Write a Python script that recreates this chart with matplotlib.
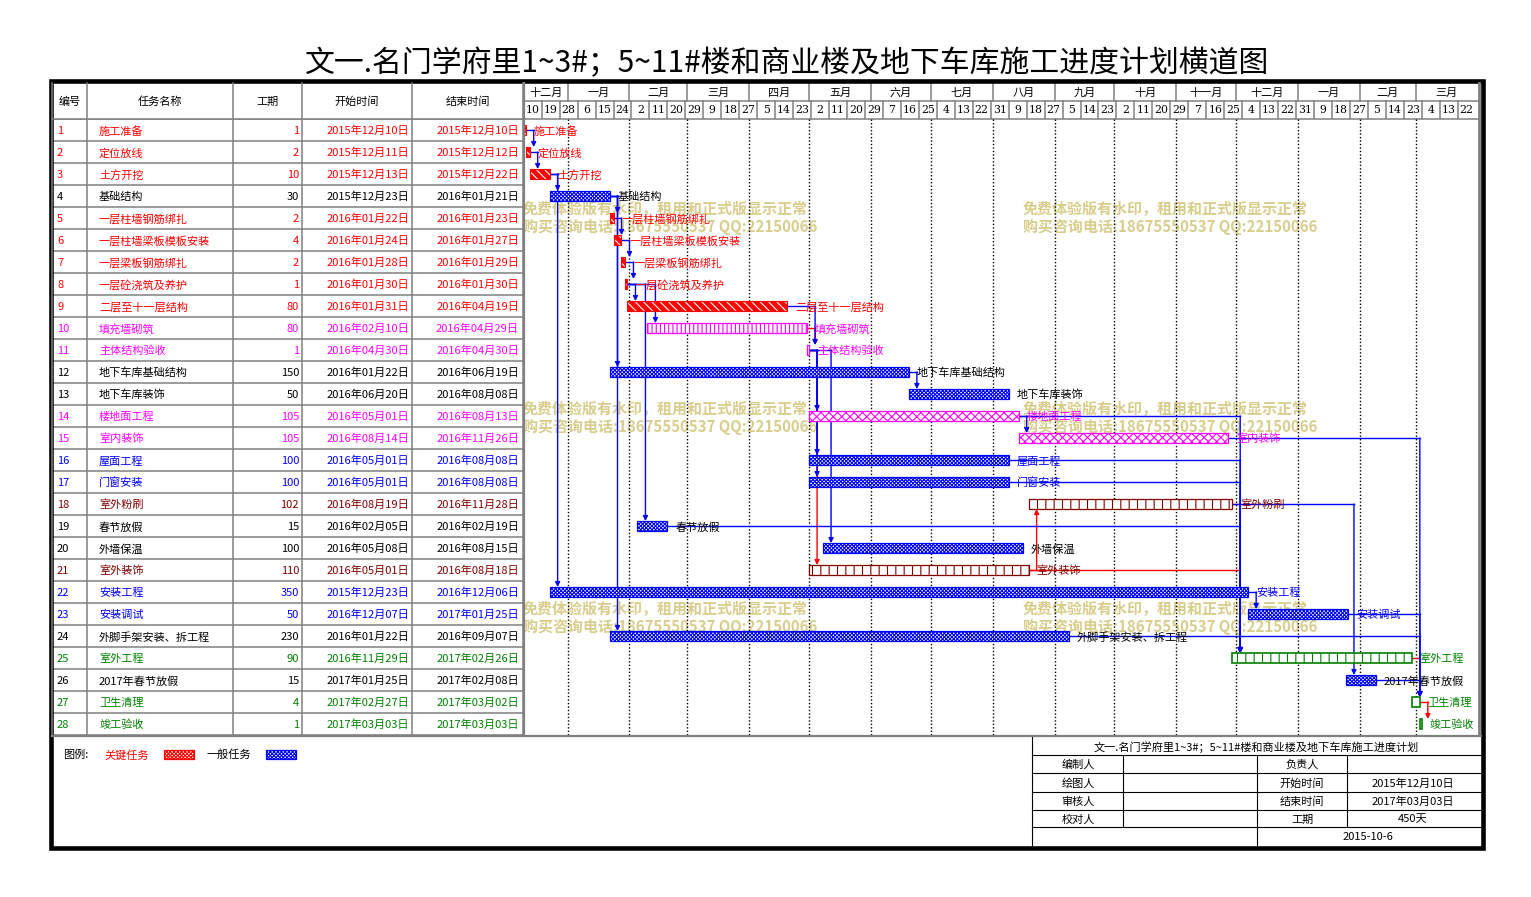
import datetime as dt
import matplotlib
matplotlib.use('Agg')
import matplotlib.pyplot as plt
import matplotlib.dates as mdates
from matplotlib.patches import Rectangle

plt.rcParams['font.family'] = ['Noto Sans CJK SC', 'DejaVu Sans']
plt.rcParams['hatch.linewidth'] = 0.8

W, H = 1531, 897

# ---------------- data ----------------
names = ['施工准备', '定位放线', '土方开挖', '基础结构', '一层柱墙钢筋绑扎', '一层柱墙梁板模板安装',
         '一层梁板钢筋绑扎', '一层砼浇筑及养护', '二层至十一层结构', '填充墙砌筑', '主体结构验收',
         '地下车库基础结构', '地下车库装饰', '楼地面工程', '室内装饰', '屋面工程', '门窗安装',
         '室外粉刷', '春节放假', '外墙保温', '室外装饰', '安装工程', '安装调试', '外脚手架安装、拆工程',
         '室外工程', '2017年春节放假', '卫生清理', '竣工验收']
durations = [1, 2, 10, 30, 2, 4, 2, 1, 80, 80, 1, 150, 50, 105, 105, 100, 100, 102, 15, 100,
             110, 350, 50, 230, 90, 15, 4, 1]
starts = ['2015-12-10', '2015-12-11', '2015-12-13', '2015-12-23', '2016-01-22', '2016-01-24',
          '2016-01-28', '2016-01-30', '2016-01-31', '2016-02-10', '2016-04-30', '2016-01-22',
          '2016-06-20', '2016-05-01', '2016-08-14', '2016-05-01', '2016-05-01', '2016-08-19',
          '2016-02-05', '2016-05-08', '2016-05-01', '2015-12-23', '2016-12-07', '2016-01-22',
          '2016-11-29', '2017-01-25', '2017-02-27', '2017-03-03']
ends = ['2015-12-10', '2015-12-12', '2015-12-22', '2016-01-21', '2016-01-23', '2016-01-27',
        '2016-01-29', '2016-01-30', '2016-04-19', '2016-04-29', '2016-04-30', '2016-06-19',
        '2016-08-08', '2016-08-13', '2016-11-26', '2016-08-08', '2016-08-08', '2016-11-28',
        '2016-02-19', '2016-08-15', '2016-08-18', '2016-12-06', '2017-01-25', '2016-09-07',
        '2017-02-26', '2017-02-08', '2017-03-02', '2017-03-03']
kinds = ['crit', 'crit', 'crit', 'gen', 'crit', 'crit', 'crit', 'crit', 'crit', 'fill',
         'fill', 'gen', 'gen', 'floor', 'floor', 'genb', 'genb', 'ext', 'gen', 'gen',
         'ext', 'genb', 'genb', 'gen', 'green', 'gen', 'green', 'green']

# links (predecessor, successor), 1-based task numbers
red_links = [(10, 11), (11, 21), (21, 18), (21, 25), (18, 25), (25, 27), (27, 28)]
blue_links = [(1, 2), (2, 3), (3, 4), (3, 22), (4, 5), (4, 12), (4, 24), (5, 6), (6, 7),
              (7, 8), (8, 9), (8, 10), (8, 19), (9, 11), (11, 14), (11, 16), (11, 17),
              (11, 20), (12, 13), (14, 15), (14, 25), (16, 25), (17, 25), (19, 25),
              (22, 23), (18, 26), (15, 27), (23, 27), (24, 27), (26, 27)]

month_names = ['十二月', '一月', '二月', '三月', '四月', '五月', '六月', '七月', '八月',
               '九月', '十月', '十一月', '十二月', '一月', '二月', '三月']
day_labels = [10, 19, 28, 6, 15, 24, 2, 11, 20, 29, 9, 18, 27, 5, 14, 23, 2, 11, 20, 29,
              7, 16, 25, 4, 13, 22, 31, 9, 18, 27, 5, 14, 23, 2, 11, 20, 29, 7, 16, 25,
              4, 13, 22, 31, 9, 18, 27, 5, 14, 23, 4, 13, 22]

headers = ['编号', '任务名称', '工期', '开始时间', '结束时间']
title = '文一.名门学府里1~3#；5~11#楼和商业楼及地下车库施工进度计划横道图'
block_title = '文一.名门学府里1~3#；5~11#楼和商业楼及地下车库施工进度计划'
block_left = ['编制人', '绘图人', '审核人', '校对人']
block_mid = ['负责人', '开始时间', '结束时间', '工期']
block_right = ['', '2015年12月10日', '2017年03月03日', '450天']
block_date = '2015-10-6'
watermark = ['免费体验版有水印，租用和正式版显示正常', '购买咨询电话:18675550537 QQ:22150066']

text_color = {'crit': '#ff0000', 'gen': 'black', 'genb': '#0000ff', 'fill': '#ff00ff',
              'floor': '#ff00ff', 'ext': '#800000', 'green': '#008000'}


def d(s):
    return mdates.date2num(dt.datetime.strptime(s, '%Y-%m-%d'))


def cn_date(s):
    return s[:4] + '年' + s[5:7] + '月' + s[8:] + '日'


t0 = d('2015-12-10')
t1 = d('2017-04-01')
n = len(names)
dy = 0.05  # small downward nudge so CJK text sits on the row centre

fig = plt.figure(figsize=(W / 100, H / 100), dpi=100)
fig.patch.set_facecolor('white')

# pixel-space canvases (background / foreground)
ax_bg = fig.add_axes([0, 0, 1, 1], zorder=0)
ax_fg = fig.add_axes([0, 0, 1, 1], zorder=3)
for a in (ax_bg, ax_fg):
    a.set_xlim(0, W)
    a.set_ylim(H, 0)
    a.axis('off')

gx0, gx1 = 523.7, 1477.7
ax_t = fig.add_axes([0, (H - 735) / H, gx0 / W, 616 / H], zorder=1)
ax_t.set_xlim(0, gx0)
ax_t.set_ylim(n, 0)
ax_t.axis('off')

ax_h = fig.add_axes([gx0 / W, (H - 119) / H, (gx1 - gx0) / W, 36 / H], zorder=1)
ax_h.set_xlim(t0, t1)
ax_h.set_ylim(2, 0)
ax_h.axis('off')

ax_g = fig.add_axes([gx0 / W, (H - 735) / H, (gx1 - gx0) / W, 616 / H], zorder=2)
ax_g.set_xlim(t0, t1)
ax_g.set_ylim(n, 0)
ax_g.axis('off')

# watermarks
for wx in (523, 1023):
    for wy in (208, 408, 608):
        ax_bg.text(wx, wy + 1, watermark[0], color='#d9cd8c', fontsize=10.8, fontweight='bold',
                   va='center', ha='left')
        ax_bg.text(wx, wy + 19, watermark[1], color='#d9cd8c', fontsize=10.8, fontweight='bold',
                   va='center', ha='left')

# title
ax_fg.text(787, 64, title, fontsize=21.5, ha='center', va='center', color='black')

# ---------------- table ----------------
col_lines = [52, 87, 233, 302, 412, 523]
grey = '#808080'
for i, h in enumerate(headers):
    ax_fg.text((col_lines[i] + col_lines[i + 1]) / 2, 102, h, fontsize=8, ha='center', va='center')
for i in range(n):
    c = text_color[kinds[i]]
    y = i + 0.5 + dy
    ax_t.text(57, y, str(i + 1), color=c, fontsize=8, va='center')
    ax_t.text(99, y, names[i], color=c, fontsize=8, va='center')
    ax_t.text(299, y, str(durations[i]), color=c, fontsize=8, va='center', ha='right')
    ax_t.text(409, y, cn_date(starts[i]), color=c, fontsize=8, va='center', ha='right')
    ax_t.text(519, y, cn_date(ends[i]), color=c, fontsize=8, va='center', ha='right')
for i in range(n + 1):
    ax_t.plot([52, gx0], [i, i], color=grey, lw=1.1, solid_capstyle='butt')
for x in col_lines:
    ax_fg.plot([x, x], [83, 735], color=grey, lw=1.1)
ax_fg.plot([52, gx0], [119, 119], color=grey, lw=1.1)
ax_fg.plot([gx0, gx0], [83, 735], color=grey, lw=1.6)
ax_fg.plot([gx1 + 1, gx1 + 1], [83, 735], color=grey, lw=2.0)

# ---------------- timeline header ----------------
bounds = [t0]
yy, mm = 2016, 1
while True:
    v = mdates.date2num(dt.datetime(yy, mm, 1))
    if v >= t1:
        break
    bounds.append(v)
    mm += 1
    if mm > 12:
        yy, mm = yy + 1, 1
bounds.append(t1)

for k, name in enumerate(month_names):
    ax_h.text((bounds[k] + bounds[k + 1]) / 2, 0.55, name, fontsize=8, ha='center', va='center')
for b in bounds[1:-1]:
    ax_h.plot([b, b], [0, 1], color=grey, lw=1.1)
    ax_g.axvline(b, color='black', lw=1.0, ls=(0, (1, 1.5)), zorder=0.5)
for k, lab in enumerate(day_labels):
    x = t0 + 9 * k
    ax_h.text(x + 4.5, 1.52, str(lab), fontsize=7.8, ha='center', va='center', family='DejaVu Serif')
    if k > 0:
        ax_h.plot([x, x], [1, 2], color=grey, lw=1.1)
ax_h.plot([t0, t1], [1, 1], color=grey, lw=1.1, clip_on=False)
ax_h.plot([t0, t1], [2, 2], color=grey, lw=1.1, clip_on=False)

# ---------------- bars ----------------
bh = 0.45
for i in range(n):
    left = d(starts[i])
    width = d(ends[i]) + 1 - left
    y = i + 0.5
    k = kinds[i]
    if k == 'crit':
        ax_g.barh(y, width, left=left, height=bh, color='#ff0000', lw=0, zorder=3)
        ax_g.barh(y, width, left=left, height=bh, facecolor='none', edgecolor='white',
                  hatch='\\\\\\\\', lw=0, zorder=3.1)
        ax_g.barh(y, width, left=left, height=bh, facecolor='none', edgecolor='#ff0000',
                  lw=0.8, zorder=3.2)
    elif k in ('gen', 'genb'):
        ax_g.barh(y, width, left=left, height=bh, facecolor='white', edgecolor='#0000ff',
                  hatch='xxxxxxxxx', lw=0.9, zorder=3)
    elif k == 'fill':
        ax_g.barh(y, width, left=left, height=bh, facecolor='white', edgecolor='#ff00ff',
                  hatch='||||', lw=0.9, zorder=3)
    elif k == 'floor':
        ax_g.barh(y, width, left=left, height=bh, facecolor='white', edgecolor='#ff00ff',
                  hatch='xxxx', lw=0.9, zorder=3)
    elif k == 'ext':
        ax_g.barh(y, width, left=left, height=bh, facecolor='white', edgecolor='#800000',
                  hatch='||', lw=0.9, zorder=3)
    else:
        ax_g.barh(y, width, left=left, height=bh, facecolor='white', edgecolor='#008000',
                  hatch='||' if durations[i] > 10 else None, lw=1.2, zorder=3)
    ax_g.text(left + width + 4, y + dy, names[i], color=text_color[k], fontsize=8,
              va='center', ha='left', zorder=4)


# ---------------- links ----------------
def draw_link(p, s, color):
    pe = d(ends[p - 1]) + 1
    ss = d(starts[s - 1])
    xv = max(pe, ss) + 4
    yp = p - 0.5
    if s > p:
        yt = s - 0.5 - bh / 2
    else:
        yt = s - 0.5 + bh / 2
    ax_g.plot([pe, xv], [yp, yp], color=color, lw=1.0, zorder=2)
    ax_g.annotate('', xy=(xv, yt), xytext=(xv, yp),
                  arrowprops=dict(arrowstyle='-|>', color=color, lw=1.0,
                                  shrinkA=0, shrinkB=0, mutation_scale=7),
                  zorder=2)


for p, s in red_links:
    draw_link(p, s, '#ff0000')
for p, s in blue_links:
    draw_link(p, s, '#0000ff')

# ---------------- footer ----------------
ax_fg.plot([52, 1481], [736, 736], color=grey, lw=1.6)
ax_fg.text(63, 755, '图例:', fontsize=8, va='center')
ax_fg.text(104, 755, '关键任务', fontsize=8, va='center', color='#ff0000')
ax_fg.add_patch(Rectangle((164, 750), 30, 9, facecolor='white', edgecolor='#ff0000',
                          hatch='xxxxxxxxx', lw=0.9))
ax_fg.text(207, 755, '一般任务', fontsize=8, va='center')
ax_fg.add_patch(Rectangle((266, 750), 30, 9, facecolor='white', edgecolor='#0000ff',
                          hatch='xxxxxxxxx', lw=0.9))

bl = 'black'
ax_fg.plot([1032, 1032], [737, 846], color=bl, lw=0.8)
row_y = [755, 773, 792, 810, 827]
for ry in row_y:
    ax_fg.plot([1032, 1481], [ry, ry], color=bl, lw=0.8)
for vx in (1123, 1257, 1347):
    ax_fg.plot([vx, vx], [755, 827], color=bl, lw=0.8)
ax_fg.plot([1257, 1257], [827, 846], color=bl, lw=0.8)
ax_fg.text(1256, 747, block_title, fontsize=8, ha='center', va='center')
for r in range(4):
    cy = (row_y[r] + row_y[r + 1]) / 2 + 1
    ax_fg.text(1078, cy, block_left[r], fontsize=8, ha='center', va='center')
    ax_fg.text(1302, cy, block_mid[r], fontsize=8, ha='center', va='center')
    ax_fg.text(1413, cy, block_right[r], fontsize=8, ha='center', va='center')
ax_fg.text(1368, 837, block_date, fontsize=8, ha='center', va='center')

# outer frame
ax_fg.add_patch(Rectangle((50.5, 81), 1432, 767, facecolor='none', edgecolor='black', lw=3.3))

fig.savefig('out.png', dpi=100, facecolor='white')
